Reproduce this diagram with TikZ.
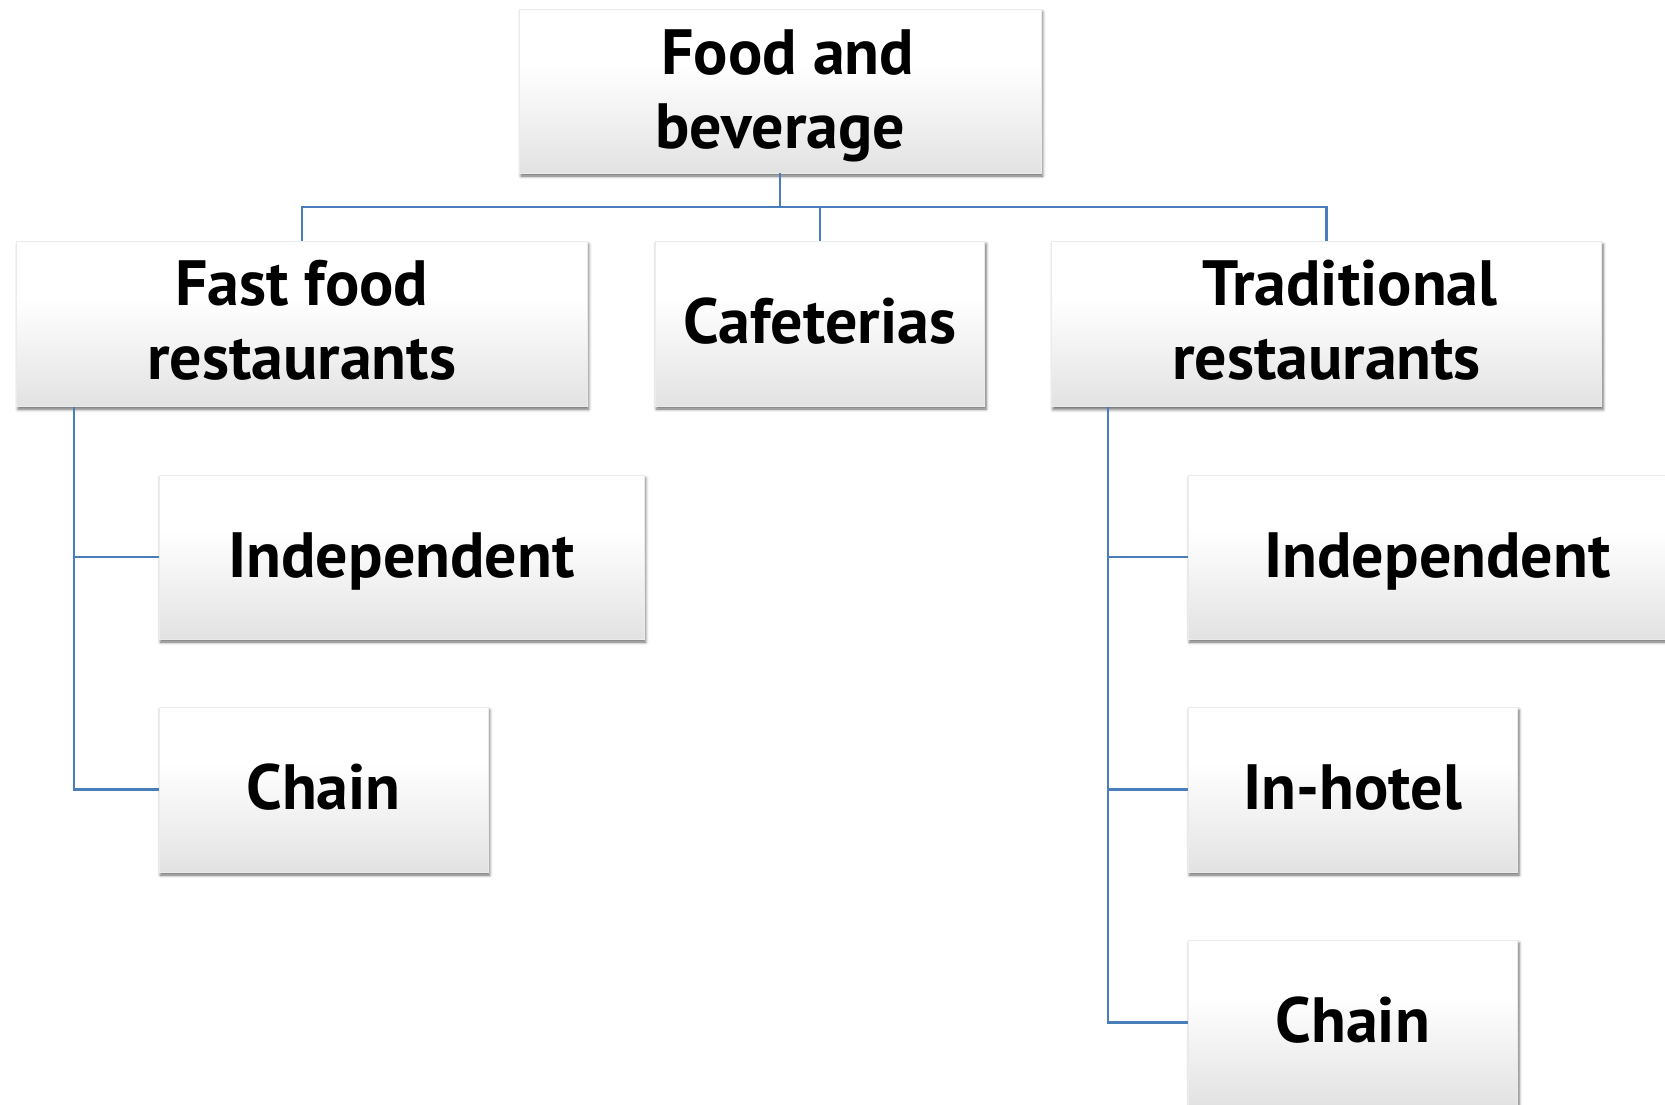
\documentclass[tikz,border=0pt]{standalone}
\usepackage{fontspec}
\setmainfont{PT Sans}
\usetikzlibrary{shadows.blur}
\definecolor{conncol}{RGB}{74,126,187}
\definecolor{shadeA}{RGB}{226,226,226}
\definecolor{shadeB}{RGB}{238,238,238}
\definecolor{shadeC}{RGB}{250,250,250}
\pgfdeclareverticalshading{boxshade}{100bp}{color(0bp)=(shadeA); color(25bp)=(shadeA); color(38bp)=(shadeB); color(52bp)=(shadeC); color(58bp)=(white); color(100bp)=(white)}
\tikzset{
  box/.style={rectangle, inner sep=0pt, shading=boxshade, draw=black!8, line width=0.6pt,
    minimum height=165pt, font=\bfseries\fontsize{64}{74}\selectfont, align=center,
    text height=50pt, text depth=10pt,
    blur shadow={shadow xshift=1.5pt, shadow yshift=-3pt, shadow blur radius=3pt, shadow opacity=60}},
  twoline/.style={text height=121pt, text depth=10pt},
  conn/.style={draw=conncol, line width=2.2pt}
}
\begin{document}
\begin{tikzpicture}[x=1pt,y=-1pt]
\useasboundingbox (0,0) rectangle (1665,1104);
\node[box, twoline, text height=125pt, minimum width=521.5pt, minimum height=164pt] (root) at (780.25,91) {\hspace*{15pt}Food and\\beverage};
\node[box, twoline, minimum width=570.5pt] (ff) at (301.75,323.75) {Fast food\\restaurants};
\node[box, minimum width=329.5pt] (caf) at (819.75,323.5) {Cafeterias};
\node[box, twoline, minimum width=550pt] (trad) at (1326.5,324) {\hspace*{47pt}Traditional\\restaurants};
\node[box, minimum width=485pt, minimum height=164pt] (indL) at (401.5,557) {Independent};
\node[box, minimum width=329pt] (chL) at (323.5,789.5) {Chain};
\node[box, minimum width=499pt, minimum height=164pt] (indR) at (1437.5,557) {Independent};
\node[box, minimum width=329.5pt] (inh) at (1352.75,789.5) {In-hotel};
\node[box, minimum width=329.5pt] (chR) at (1352.75,1022.5) {Chain};
\draw[conn] (root.south) -- ++(0,34) -| (ff.north);
\draw[conn] (root.south) -- ++(0,34) -| (caf.north);
\draw[conn] (root.south) -- ++(0,34) -| (trad.north);
\draw[conn] ([xshift=57.5pt]ff.south west) |- (indL.west);
\draw[conn] ([xshift=57.5pt]ff.south west) |- (chL.west);
\draw[conn] ([xshift=56.5pt]trad.south west) |- (indR.west);
\draw[conn] ([xshift=56.5pt]trad.south west) |- (inh.west);
\draw[conn] ([xshift=56.5pt]trad.south west) |- (chR.west);
\end{tikzpicture}
\end{document}
